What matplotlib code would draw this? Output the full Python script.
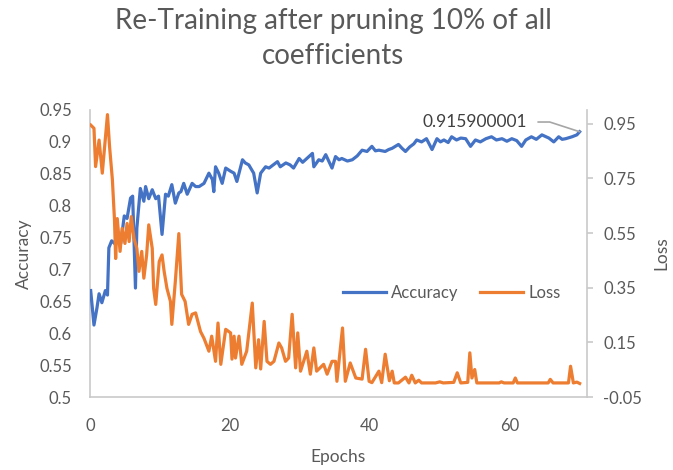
import matplotlib
matplotlib.use("Agg")
import matplotlib.pyplot as plt

plt.rcParams['font.family'] = ['Lato', 'DejaVu Sans']

# Accuracy log (epoch, value)
acc_epochs = [0.1, 0.57, 1.0, 1.3, 1.7, 2.2, 2.5, 2.7, 3.1, 3.6, 4.0, 4.4, 4.9, 5.3,
              5.8, 6.1, 6.5, 6.7, 7.2, 7.7, 7.95, 8.4, 8.9, 9.4, 9.8, 10.3, 10.8,
              11.2, 11.7, 12.2, 12.7, 13.0, 13.4, 13.9, 14.6, 15.1, 15.6, 16.3,
              17.0, 17.5, 17.7, 17.95, 18.4, 18.9, 19.4, 20.1, 20.6, 21.0, 21.8,
              22.2, 22.7, 23.4, 23.9, 24.4, 25.1, 25.6, 26.2, 26.8, 27.2, 28.0,
              28.6, 29.1, 29.9, 30.4, 30.8, 31.8, 32.0, 32.7, 33.2, 33.7, 34.6,
              35.1, 35.6, 36.0, 36.8, 37.5, 38.2, 38.9, 39.6, 40.3, 40.8, 41.3,
              42.2, 42.7, 43.2, 44.1, 44.6, 45.1, 45.7, 46.3, 46.7, 47.4, 48.1,
              48.9, 49.6, 50.1, 50.6, 51.2, 51.7, 52.4, 53.0, 53.7, 54.4, 55.1,
              55.8, 56.6, 57.4, 58.1, 58.9, 59.6, 60.3, 61.0, 61.7, 62.3, 63.1,
              63.8, 64.6, 65.6, 66.3, 67.0, 67.5, 68.0, 68.9, 69.6, 70.0]
acc_values = [0.667, 0.613, 0.640, 0.662, 0.648, 0.667, 0.660, 0.734, 0.745, 0.740,
              0.748, 0.741, 0.784, 0.780, 0.812, 0.815, 0.671, 0.765, 0.827, 0.807,
              0.830, 0.811, 0.825, 0.811, 0.815, 0.755, 0.818, 0.815, 0.833, 0.804,
              0.820, 0.822, 0.835, 0.818, 0.835, 0.830, 0.830, 0.835, 0.851, 0.841,
              0.822, 0.861, 0.851, 0.835, 0.859, 0.854, 0.851, 0.838, 0.872, 0.867,
              0.864, 0.851, 0.820, 0.851, 0.861, 0.859, 0.864, 0.869, 0.861, 0.867,
              0.864, 0.859, 0.874, 0.868, 0.872, 0.882, 0.861, 0.872, 0.870, 0.880,
              0.859, 0.877, 0.872, 0.874, 0.870, 0.872, 0.878, 0.887, 0.885, 0.893,
              0.886, 0.887, 0.885, 0.888, 0.890, 0.896, 0.890, 0.885, 0.892, 0.897,
              0.903, 0.900, 0.905, 0.888, 0.905, 0.900, 0.903, 0.899, 0.908, 0.903,
              0.906, 0.905, 0.893, 0.903, 0.900, 0.905, 0.908, 0.903, 0.905, 0.901,
              0.905, 0.902, 0.893, 0.903, 0.908, 0.904, 0.911, 0.906, 0.900, 0.908,
              0.904, 0.905, 0.908, 0.911, 0.915900001]

# Loss log (epoch, value)
loss_epochs = [0.1, 0.57, 0.8, 1.3, 1.76, 2.1, 2.5, 2.8, 3.2, 3.5, 3.67, 3.9, 4.3,
               4.6, 5.0, 5.3, 5.6, 5.9, 6.3, 6.7, 7.0, 7.4, 7.7, 8.1, 8.4, 8.9, 9.1,
               9.4, 9.9, 10.3, 10.6, 11.0, 11.5, 11.7, 12.2, 12.7, 13.1, 13.6, 14.1,
               14.6, 15.1, 15.8, 16.3, 17.0, 17.4, 17.95, 18.3, 18.7, 19.4, 20.1,
               20.3, 20.6, 20.8, 21.3, 21.7, 22.4, 23.2, 23.7, 24.1, 24.4, 24.9,
               25.3, 25.8, 26.3, 27.0, 27.4, 27.95, 28.4, 28.9, 29.4, 29.7, 30.1,
               31.0, 31.5, 32.0, 32.4, 33.4, 33.9, 34.6, 35.1, 35.3, 35.6, 36.1,
               36.5, 37.2, 38.0, 38.9, 39.4, 39.9, 40.3, 41.3, 41.7, 42.2, 42.8,
               43.2, 43.5, 44.1, 45.1, 45.6, 46.0, 46.5, 47.0, 47.4, 49.4, 50.0,
               50.5, 52.0, 52.5, 53.0, 54.0, 54.3, 54.6, 55.0, 55.3, 58.5, 58.8,
               59.2, 60.5, 60.8, 61.1, 65.5, 65.8, 66.2, 68.4, 68.7, 69.1, 69.6,
               70.0]
loss_values = [0.945, 0.933, 0.793, 0.890, 0.769, 0.866, 0.983, 0.866, 0.746, 0.600,
               0.457, 0.603, 0.483, 0.567, 0.512, 0.585, 0.519, 0.610, 0.530, 0.494,
               0.410, 0.483, 0.385, 0.470, 0.580, 0.494, 0.348, 0.289, 0.446, 0.470,
               0.410, 0.348, 0.300, 0.216, 0.373, 0.548, 0.326, 0.300, 0.216, 0.253,
               0.258, 0.190, 0.165, 0.118, 0.173, 0.081, 0.221, 0.070, 0.198, 0.185,
               0.089, 0.173, 0.093, 0.173, 0.070, 0.118, 0.294, 0.057, 0.160, 0.053,
               0.227, 0.081, 0.070, 0.081, 0.148, 0.130, 0.081, 0.093, 0.253, 0.057,
               0.185, 0.045, 0.118, 0.034, 0.130, 0.045, 0.070, 0.034, 0.081, 0.081,
               0.008, 0.081, 0.203, 0.008, 0.075, 0.020, 0.016, 0.125, 0.008, 0.003,
               0.045, 0.003, 0.107, 0.010, 0.045, 0.002, 0.002, 0.023, 0.002, 0.030,
               0.002, 0.012, 0.002, 0.002, 0.006, 0.002, 0.004, 0.039, 0.002, 0.004,
               0.112, 0.020, 0.051, 0.002, 0.002, 0.006, 0.002, 0.002, 0.020, 0.002,
               0.002, 0.015, 0.002, 0.002, 0.063, 0.002, 0.005, 0.000]

acc_ticks = [0.5, 0.55, 0.6, 0.65, 0.7, 0.75, 0.8, 0.85, 0.9, 0.95]
loss_ticks = [-0.05, 0.15, 0.35, 0.55, 0.75, 0.95]
epoch_ticks = [0, 20, 40, 60]

BLUE = '#4472C4'
ORANGE = '#ED7D31'
TEXT = '#595959'
AXIS = '#C9C9C9'

fig = plt.figure(figsize=(6.73, 4.70), dpi=100)
ax = fig.add_axes([0.1337, 0.155, 0.738, 0.611])
ax2 = ax.twinx()

l1, = ax.plot(acc_epochs, acc_values, color=BLUE, lw=2.3, label='Accuracy',
              solid_joinstyle='round', zorder=3)
l2, = ax2.plot(loss_epochs, loss_values, color=ORANGE, lw=2.3, label='Loss',
               solid_joinstyle='round', zorder=3)

ax.set_xlim(0, 71)
ax.set_ylim(0.5, 0.95)
ax2.set_ylim(-0.05, 1.0)

ax.set_xticks(epoch_ticks)
ax.set_xticklabels([str(t) for t in epoch_ticks])
ax.set_yticks(acc_ticks)
ax.set_yticklabels([f'{t:g}' for t in acc_ticks])
ax2.set_yticks(loss_ticks)
ax2.set_yticklabels([f'{t:g}' for t in loss_ticks])

for a in (ax, ax2):
    for s in a.spines.values():
        s.set_visible(False)
ax.spines['left'].set_visible(True)
ax.spines['bottom'].set_visible(True)
ax2.spines['right'].set_visible(True)
for s in (ax.spines['left'], ax.spines['bottom'], ax2.spines['right']):
    s.set_color(AXIS)
    s.set_linewidth(1.2)

ax.tick_params(axis='y', length=0, pad=13, labelsize=12, labelcolor=TEXT)
ax.tick_params(axis='x', length=0, pad=15, labelsize=12, labelcolor=TEXT)
ax2.tick_params(axis='y', length=4, width=1.2, color=AXIS, pad=8,
                labelsize=12, labelcolor=TEXT)

ax.set_ylabel('Accuracy', fontsize=12.5, color=TEXT, labelpad=5)
ax2.set_ylabel('Loss', fontsize=12.5, color=TEXT, labelpad=8)
ax.set_xlabel('Epochs', fontsize=12.5, color=TEXT, labelpad=11)

fig.suptitle('Re-Training after pruning 10% of all\ncoefficients',
             fontsize=20, color=TEXT, x=0.495, y=0.982, linespacing=1.42)

ax.legend(handles=[l1, l2], loc='center', bbox_to_anchor=(0.728, 0.362),
          ncol=2, frameon=False, fontsize=12, labelcolor=TEXT,
          handlelength=2.6, handletextpad=0.3, columnspacing=1.3)

ax.annotate(f'{acc_values[-1]:.9f}', xy=(acc_epochs[-1], acc_values[-1]),
            xytext=(-38, 7), textcoords='offset points', ha='right', va='center',
            fontsize=12.5, color='#404040', zorder=5,
            arrowprops=dict(arrowstyle='-', color='#A6A6A6', lw=1.2,
                            relpos=(1, 0.5), shrinkA=6, shrinkB=0,
                            connectionstyle='angle,angleA=0,angleB=162,rad=0'))

fig.savefig('out.png', dpi=100)
